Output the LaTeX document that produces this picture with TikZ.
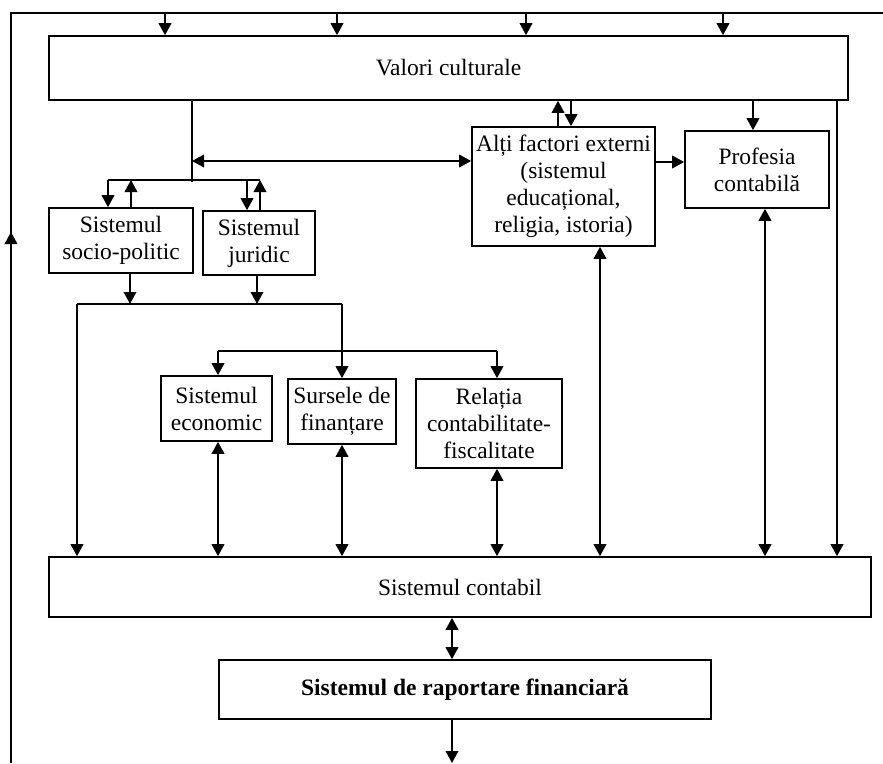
\documentclass[tikz,border=0pt]{standalone}
\usepackage{fontspec}
\setmainfont{Liberation Serif}
\usetikzlibrary{arrows.meta}
\begin{document}
\begin{tikzpicture}[x=1pt,y=-1pt,
 box/.style={draw,line width=1.6pt,inner sep=1pt,align=center,font=\fontsize{23.5}{27}\selectfont},
 ln/.style={line width=1.9pt},
 arr/.style={ln,-{Triangle[length=12pt,width=12.5pt]}},
 darr/.style={ln,{Triangle[length=12pt,width=12.5pt]}-{Triangle[length=12pt,width=12.5pt]}}]
\useasboundingbox (0,0) rectangle (883,763);
% boxes
\node[box,minimum width=799pt,minimum height=64pt] (vc) at (448.5,68) {Valori culturale};
\node[box,minimum width=183pt,minimum height=119pt] (alti) at (563.5,186.5) {Alți factori externi\\(sistemul\\educațional,\\religia, istoria)};
\node[box,minimum width=144pt,minimum height=77pt] (prof) at (757,169.5) {Profesia\\contabilă};
\node[box,minimum width=144pt,minimum height=65pt] (socio) at (121,240.5) {Sistemul\\socio-politic};
\node[box,minimum width=112pt,minimum height=64pt] (jur) at (259,243) {Sistemul\\juridic};
\node[box,minimum width=111pt,minimum height=65pt] (econ) at (216.5,408.5) {Sistemul\\economic};
\node[box,minimum width=108pt,minimum height=65pt] (surs) at (342,411.5) {Sursele de\\finanțare};
\node[box,minimum width=146pt,minimum height=89pt] (rel) at (489,423.5) {Relația\\contabilitate-\\fiscalitate};
\node[box,minimum width=822pt,minimum height=60pt] (cont) at (460,587) {Sistemul contabil};
\node[box,minimum width=492pt,minimum height=59pt] (rap) at (465,689.5) {\textbf{Sistemul de raportare financiară}};
% outer loop
\coordinate (tl) at (11,13); \coordinate (tr) at (883,13);
\coordinate (bl) at (11,763); \coordinate (la) at (11,232);
\draw[ln] (bl) -- (tl) -- (tr);
\draw[arr] (bl) -- (la);
\foreach \xx in {165,337,526,723}{
  \coordinate (t) at (\xx,13);
  \draw[arr] (t) -- (t |- vc.north);
}
% left group
\coordinate (v1) at (192,182);
\draw[ln] (v1 |- vc.south) -- (v1);
\coordinate (h1l) at (108,180); \coordinate (h1r) at (260,180);
\draw[ln] (h1l) -- (h1r);
\draw[arr] (h1l) -- (h1l |- socio.north);
\coordinate (s1) at (131,180); \draw[arr] (s1 |- socio.north) -- (s1);
\coordinate (j1) at (247,180); \draw[arr] (j1) -- (j1 |- jur.north);
\draw[arr] (h1r |- jur.north) -- (h1r);
\coordinate (a1) at (192,161); \draw[darr] (a1) -- (a1 -| alti.west);
% middle
\coordinate (h2l) at (77,304); \coordinate (h2r) at (342,304);
\draw[ln] (h2l) -- (h2r);
\coordinate (s2) at (130,304); \draw[arr] (s2 |- socio.south) -- (s2);
\coordinate (j2) at (257,304); \draw[arr] (j2 |- jur.south) -- (j2);
\draw[arr] (h2l) -- (h2l |- cont.north);
\draw[arr] (h2r) -- (h2r |- surs.north);
\coordinate (h3l) at (218,351); \coordinate (h3r) at (497,351);
\draw[ln] (h3l) -- (h3r);
\draw[arr] (h3l) -- (h3l |- econ.north);
\draw[arr] (h3r) -- (h3r |- rel.north);
% to accounting system
\draw[darr] (h3l |- econ.south) -- (h3l |- cont.north);
\draw[darr] (h2r |- surs.south) -- (h2r |- cont.north);
\draw[darr] (h3r |- rel.south) -- (h3r |- cont.north);
\coordinate (x600) at (600,0); \draw[darr] (x600 |- alti.south) -- (x600 |- cont.north);
\coordinate (x765) at (765,0); \draw[darr] (x765 |- prof.south) -- (x765 |- cont.north);
\coordinate (x837) at (837,0); \draw[arr] (x837 |- vc.south) -- (x837 |- cont.north);
% upper right
\coordinate (x558) at (558,0); \draw[arr] (x558 |- alti.north) -- (x558 |- vc.south);
\coordinate (x571) at (571,0); \draw[arr] (x571 |- vc.south) -- (x571 |- alti.north);
\coordinate (x753) at (753,0); \draw[arr] (x753 |- vc.south) -- (x753 |- prof.north);
\coordinate (y162) at (0,162); \draw[arr] (y162 -| alti.east) -- (y162 -| prof.west);
% bottom
\coordinate (x452) at (452,0);
\draw[darr] (x452 |- cont.south) -- (x452 |- rap.north);
\coordinate (bot) at (452,763);
\draw[arr] (x452 |- rap.south) -- (bot);
\end{tikzpicture}
\end{document}
